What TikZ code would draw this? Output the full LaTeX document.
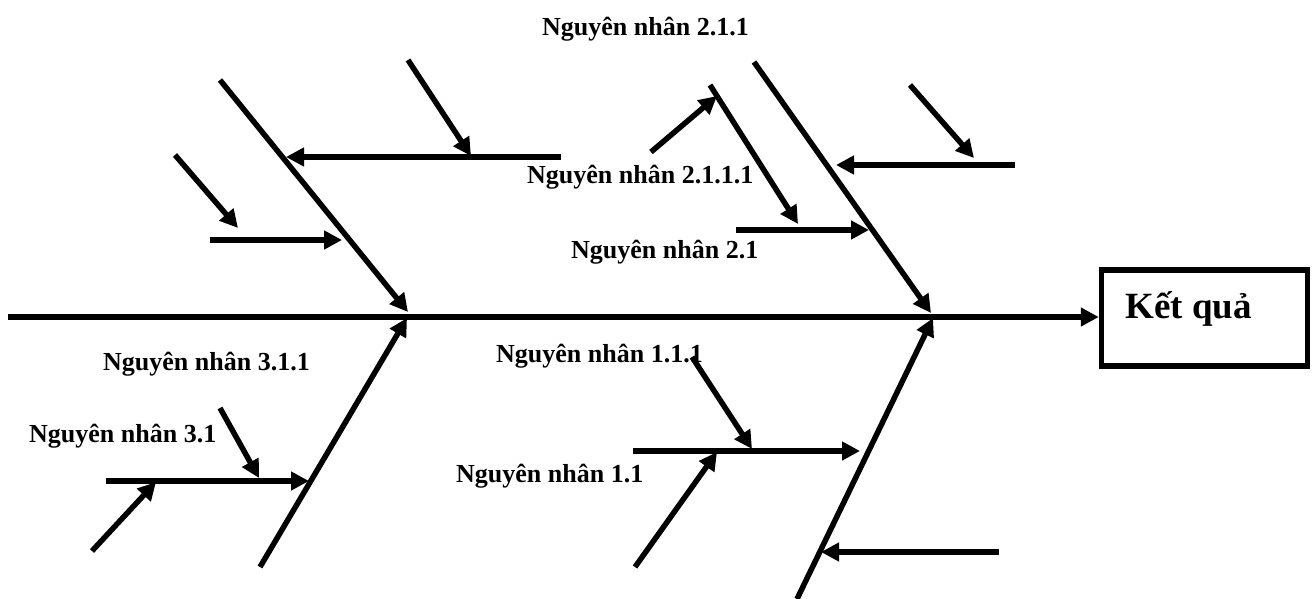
\documentclass[tikz,border=0pt]{standalone}
\usepackage{fontspec}
\setmainfont{Liberation Serif}
\usetikzlibrary{arrows.meta}
\tikzset{
  bone/.style={line width=5.5pt, line cap=butt},
  arr/.style={bone, -{Triangle[length=18pt,width=18pt]}},
  lbl/.style={anchor=base west, inner sep=0pt, font=\fontsize{26}{30}\selectfont\bfseries},
  resbox/.style={draw, line width=5.5pt, minimum width=206pt, minimum height=96pt, inner sep=0pt},
}
\begin{document}
\begin{tikzpicture}[x=1pt,y=-1pt]
\useasboundingbox (0,0) rectangle (1314,599);
% result box
\node[resbox] (res) at (1204.5,318) {};
\node[lbl, font=\fontsize{37}{42}\selectfont\bfseries] (restext) at (1125,318) {Kết quả};
% spine
\coordinate (s0) at (8,317);
\draw[arr] (s0) -- (s0 -| res.west);
% ---- upper left bone
\coordinate (ul0) at (220,80);   \coordinate (ul1) at (408,312);
\draw[arr] (ul0) -- (ul1);
\coordinate (ulh0) at (561,157); \coordinate (ulh1) at (286,157);
\draw[arr] (ulh0) -- (ulh1);
\coordinate (ulhs0) at (408,60); \coordinate (ulhs1) at (471,156);
\draw[arr] (ulhs0) -- (ulhs1);
\coordinate (ulh2a) at (210,240); \coordinate (ulh2b) at (342,240);
\draw[arr] (ulh2a) -- (ulh2b);
\coordinate (ulh2s0) at (175,155); \coordinate (ulh2s1) at (238,228);
\draw[arr] (ulh2s0) -- (ulh2s1);
% ---- upper right bone
\coordinate (ur0) at (754,62);   \coordinate (ur1) at (931,313);
\draw[arr] (ur0) -- (ur1);
\coordinate (b211a) at (710,85); \coordinate (b211b) at (798,224);
\draw[arr] (b211a) -- (b211b);
\coordinate (b2111a) at (651,152); \coordinate (b2111b) at (717,96);
\draw[arr] (b2111a) -- (b2111b);
\coordinate (b21a) at (736,230); \coordinate (b21b) at (869,230);
\draw[arr] (b21a) -- (b21b);
\coordinate (urh0) at (1015,165); \coordinate (urh1) at (836,165);
\draw[arr] (urh0) -- (urh1);
\coordinate (urhs0) at (910,85); \coordinate (urhs1) at (974,158);
\draw[arr] (urhs0) -- (urhs1);
% ---- lower left bone
\coordinate (ll0) at (260,567); \coordinate (ll1) at (407,318);
\draw[arr] (ll0) -- (ll1);
\coordinate (b31a) at (106,481); \coordinate (b31b) at (309,481);
\draw[arr] (b31a) -- (b31b);
\coordinate (b311a) at (220,408); \coordinate (b311b) at (259,478);
\draw[arr] (b311a) -- (b311b);
\coordinate (b31s0) at (92,551); \coordinate (b31s1) at (156,482);
\draw[arr] (b31s0) -- (b31s1);
% ---- lower right bone
\coordinate (lr0) at (797,599); \coordinate (lr1) at (933,318);
\draw[arr] (lr0) -- (lr1);
\coordinate (b11a) at (633,451); \coordinate (b11b) at (860,451);
\draw[arr] (b11a) -- (b11b);
\coordinate (b111a) at (692,357); \coordinate (b111b) at (752,449);
\draw[arr] (b111a) -- (b111b);
\coordinate (b11s0) at (635,567); \coordinate (b11s1) at (717,452);
\draw[arr] (b11s0) -- (b11s1);
\coordinate (lrh0) at (999,552); \coordinate (lrh1) at (821,552);
\draw[arr] (lrh0) -- (lrh1);
% ---- labels
\node[lbl] (l211) at (542,36) {Nguyên nhân 2.1.1};
\node[lbl] (l2111) at (527,183) {Nguyên nhân 2.1.1.1};
\node[lbl] (l21) at (571,258) {Nguyên nhân 2.1};
\node[lbl] (l311) at (103,370) {Nguyên nhân 3.1.1};
\node[lbl] (l31) at (29,442) {Nguyên nhân 3.1};
\node[lbl] (l111) at (496,362) {Nguyên nhân 1.1.1};
\node[lbl] (l11) at (456,482) {Nguyên nhân 1.1};
\end{tikzpicture}
\end{document}
